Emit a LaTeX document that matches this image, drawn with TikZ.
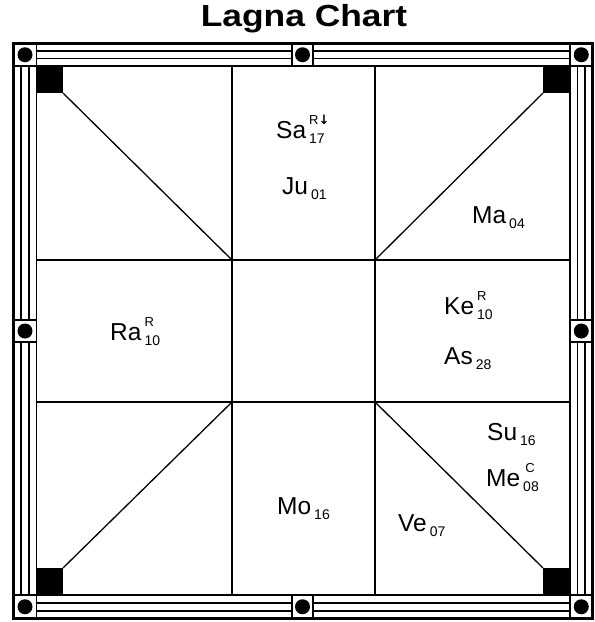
\documentclass[tikz,border=0pt]{standalone}
\usepackage{fontspec}
\setmainfont{Liberation Sans}
\newfontfamily\arrowfont{DejaVu Sans}
\newcommand\planet[3]{#1\kern3pt\rlap{\raisebox{14pt}{\fontsize{13}{13}\selectfont #2}}\raisebox{-5pt}{\fontsize{14}{14}\selectfont #3}}
\newcommand\dn{{\arrowfont\bfseries\fontsize{13}{13}\selectfont ↓}}
\begin{document}
\begin{tikzpicture}[x=1pt,y=-1pt,
  outerframe/.style={line width=3pt},
  framebox/.style={line width=1.8pt},
  bandline/.style={line width=1.8pt},
  gridline/.style={line width=1.3pt},
  knob/.style={circle,fill=black,inner sep=0pt,minimum size=15pt},
  cornersq/.style={fill=black},
  lbl/.style={anchor=base west,inner sep=0pt,font=\fontsize{24.5}{25}\selectfont}]
\useasboundingbox (0,0) rectangle (595,622);
\node[font=\fontsize{30.5}{32}\selectfont\bfseries] (title) at (304,19) {\scalebox{1.16}[1]{Lagna Chart}};
% frame
\draw[outerframe] (13.5,43.5) rectangle (592.5,618.5);
\draw[framebox] (36.5,43.5) -- (36.5,618.5);
\draw[framebox] (570,43.5) -- (570,618.5);
\draw[framebox] (13.5,66) -- (592.5,66);
\draw[framebox] (13.5,595) -- (592.5,595);
% band lines top / bottom
\foreach \y in {51,58.5,602.8,610.7}{
  \draw[bandline] (36.5,\y) -- (292,\y);
  \draw[bandline] (313,\y) -- (570,\y);
}
\foreach \x in {21.2,28.8,577.5,585}{
  \draw[bandline] (\x,66) -- (\x,320);
  \draw[bandline] (\x,342) -- (\x,595);
}
% mid boxes
\draw[framebox] (292,43.5) -- (292,66) (313,43.5) -- (313,66);
\draw[framebox] (292,595) -- (292,618.5) (313,595) -- (313,618.5);
\draw[framebox] (13.5,320) -- (36.5,320) (13.5,342) -- (36.5,342);
\draw[framebox] (570,320) -- (592.5,320) (570,342) -- (592.5,342);
% knobs
\node[knob] (k1) at (25,54.75) {};
\node[knob] (k2) at (302.5,54.75) {};
\node[knob] (k3) at (581.25,54.75) {};
\node[knob] (k4) at (25,331) {};
\node[knob] (k5) at (581.25,331) {};
\node[knob] (k6) at (25,606.75) {};
\node[knob] (k7) at (302.5,606.75) {};
\node[knob] (k8) at (581.25,606.75) {};
% corner squares
\fill[cornersq] (36.5,66) rectangle (63,93);
\fill[cornersq] (543,66) rectangle (570,93);
\fill[cornersq] (36.5,568) rectangle (63,595);
\fill[cornersq] (543,568) rectangle (570,595);
% grid
\coordinate (tl) at (63,93);
\coordinate (tr) at (543,93);
\coordinate (bl) at (63,568);
\coordinate (br) at (543,568);
\coordinate (c1) at (232,260);
\coordinate (c2) at (375,260);
\coordinate (c3) at (232,402);
\coordinate (c4) at (375,402);
\draw[gridline] (232,66) -- (232,595) (375,66) -- (375,595);
\draw[gridline] (36.5,260) -- (570,260) (36.5,402) -- (570,402);
\draw[gridline] (tl) -- (c1) (tr) -- (c2) (bl) -- (c3) (br) -- (c4);
% labels
\node[lbl] (sa) at (276,138) {\planet{Sa}{R\dn}{17}};
\node[lbl] (ju) at (282,194) {\planet{Ju}{}{01}};
\node[lbl] (ma) at (472,223) {\planet{Ma}{}{04}};
\node[lbl] (ra) at (110,340) {\planet{Ra}{R}{10}};
\node[lbl] (ke) at (444,314) {\planet{Ke}{R}{10}};
\node[lbl] (as) at (444,364) {\planet{As}{}{28}};
\node[lbl] (su) at (487,440) {\planet{Su}{}{16}};
\node[lbl] (me) at (486,486) {\planet{Me}{\,C}{08}};
\node[lbl] (ve) at (398,531) {\planet{Ve}{}{07}};
\node[lbl] (mo) at (277,514) {\planet{Mo}{}{16}};
\end{tikzpicture}
\end{document}
